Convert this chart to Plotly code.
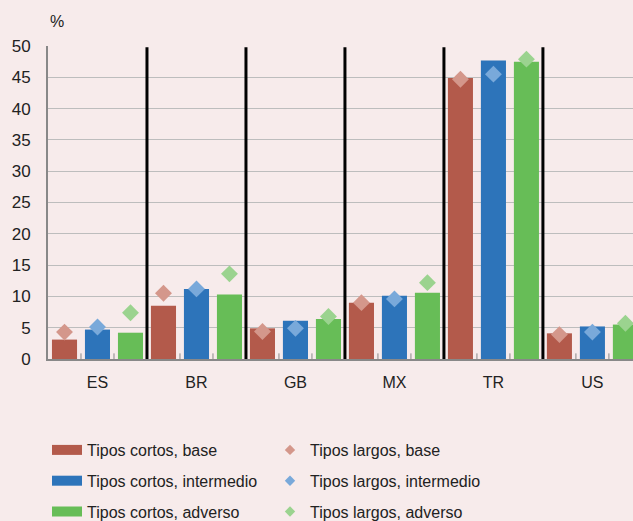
import plotly.graph_objects as go

categories = ["ES", "BR", "GB", "MX", "TR", "US"]
cortos_base = [3.1, 8.5, 4.9, 9.0, 44.9, 4.1]
cortos_inter = [4.7, 11.2, 6.1, 10.1, 47.7, 5.2]
cortos_adv = [4.2, 10.3, 6.4, 10.6, 47.5, 5.5]
largos_base = [4.3, 10.5, 4.4, 9.0, 44.7, 3.9]
largos_inter = [5.1, 11.2, 4.9, 9.6, 45.5, 4.3]
largos_adv = [7.4, 13.6, 6.8, 12.2, 47.9, 5.7]

bar_colors = ["#B35A4B", "#2D74BA", "#67BD57"]
dia_colors = ["#D4978B", "#79A9DA", "#9BD38F"]
names_bar = ["Tipos cortos, base", "Tipos cortos, intermedio", "Tipos cortos, adverso"]
names_dia = ["Tipos largos, base", "Tipos largos, intermedio", "Tipos largos, adverso"]
groups = ["g1", "g2", "g3"]

BG = "#F7EBEB"
FONT = "Liberation Sans, Arial, sans-serif"

fig = go.Figure()
for vals, c, g in zip([cortos_base, cortos_inter, cortos_adv], bar_colors, groups):
    fig.add_trace(go.Bar(x=categories, y=vals, marker_color=c, marker_line_width=0,
                         offsetgroup=g, showlegend=False))
for vals, c, g in zip([largos_base, largos_inter, largos_adv], dia_colors, groups):
    fig.add_trace(go.Scatter(x=categories, y=vals, mode="markers", offsetgroup=g,
                             marker=dict(symbol="diamond", size=13, color=c),
                             showlegend=False))

# legend entries
for i, (n, c) in enumerate(zip(names_bar, bar_colors)):
    fig.add_trace(go.Scatter(x=[None], y=[None], mode="lines", name=n,
                             line=dict(color=c, width=11), legend="legend",
                             legendgroup="b%d" % i))
for i, (n, c) in enumerate(zip(names_dia, dia_colors)):
    fig.add_trace(go.Scatter(x=[None], y=[None], mode="markers", name=n,
                             marker=dict(symbol="diamond", size=8, color=c),
                             legend="legend2", legendgroup="d%d" % i))

shapes = []
for i in range(len(categories) - 1):
    shapes.append(dict(type="line", xref="x", yref="y", x0=i + 0.5, x1=i + 0.5,
                       y0=0, y1=49.8, line=dict(color="black", width=3)))
for i in range(len(categories)):
    for d in (-1 / 6, 1 / 6):
        shapes.append(dict(type="line", xref="x", yref="y", x0=i + d, x1=i + d,
                           y0=0, y1=0.9, line=dict(color="#888888", width=1)))

LEG_TOP = (521 - 433) / 521

fig.update_layout(
    width=633, height=521,
    margin=dict(l=48, r=0, t=46, b=162, autoexpand=False),
    paper_bgcolor=BG, plot_bgcolor=BG,
    font=dict(family=FONT, size=16, color="#222222"),
    barmode="group", bargap=0.0, bargroupgap=0.24,
    scattermode="group", scattergap=0.0,
    shapes=shapes,
    xaxis=dict(range=[-0.5, 5.41], showgrid=False, showline=True, linecolor="#888888",
               linewidth=2, ticks="", ticklabelstandoff=8, tickfont=dict(size=16)),
    yaxis=dict(range=[0, 50], tickvals=list(range(0, 51, 5)), showgrid=True,
               gridcolor="#BDBDBD", gridwidth=1, showline=True, linecolor="#888888",
               linewidth=2, ticks="", zeroline=False, ticklabelstandoff=12,
               tickfont=dict(size=17)),
    legend=dict(x=47 / 633, y=LEG_TOP, xref="container", yref="container",
                xanchor="left", yanchor="top",
                bgcolor="rgba(0,0,0,0)", tracegroupgap=7, font=dict(size=16),
                itemwidth=30),
    legend2=dict(x=270 / 633, y=LEG_TOP, xref="container", yref="container",
                 xanchor="left", yanchor="top",
                 bgcolor="rgba(0,0,0,0)", tracegroupgap=7, font=dict(size=16),
                 itemwidth=30),
    annotations=[dict(text="%", xref="paper", yref="paper", x=0.0, y=1.0, yshift=14,
                      xanchor="left", yanchor="bottom", showarrow=False,
                      font=dict(size=16))],
)

fig.write_html("out.html")
